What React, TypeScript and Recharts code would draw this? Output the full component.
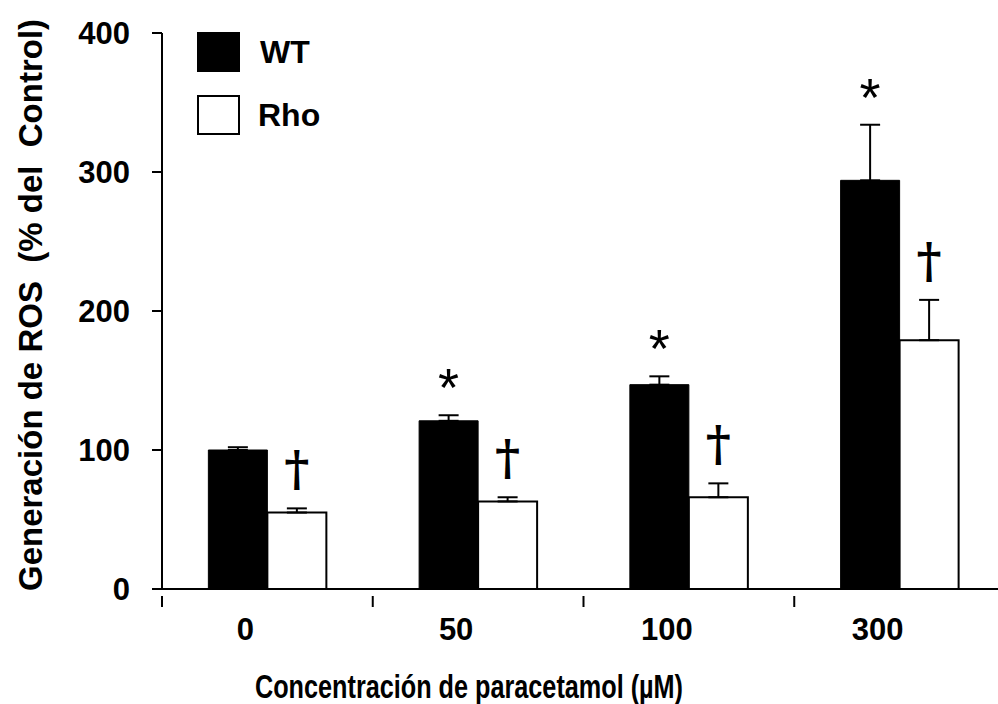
import React from 'react';
import { BarChart, Bar, XAxis, YAxis, ErrorBar, LabelList } from 'recharts';

const categories = ['0', '50', '100', '300'];
const wtValues = [100, 121, 147, 294];
const wtErrors = [2, 4, 6, 40];
const rhoValues = [55, 63, 66, 179];
const rhoErrors = [3, 3, 10, 29];
const wtMarks = ['', '*', '*', '*'];
const rhoMarks = ['†', '†', '†', '†'];
const yTicks = [0, 100, 200, 300, 400];
const seriesNames = ['WT', 'Rho'];

const FONT = '"Liberation Sans", Arial, sans-serif';

const data = categories.map((c, i) => ({
  conc: c,
  wt: wtValues[i],
  wtErr: [0, wtErrors[i]],
  rho: rhoValues[i],
  rhoErr: [0, rhoErrors[i]],
}));

// symbol drawn above the error bar of each bar
const makeMark = (marks: string[], values: number[], errors: number[], kind: 'star' | 'dagger') => (props: any) => {
  const { x, y, width, height, index } = props;
  const txt = marks[index];
  if (!txt) return null;
  const pxPerUnit = height / values[index];
  const errTop = y - errors[index] * pxPerUnit;
  const cx = x + width / 2;
  if (kind === 'star') {
    return (
      <text x={cx} y={errTop - 30} dy={21} textAnchor="middle" fontSize={54} fontFamily={FONT} fill="#000">
        {txt}
      </text>
    );
  }
  return (
    <text x={cx} y={errTop - 22} textAnchor="middle" fontSize={48} fontWeight="bold" fontFamily={'"DejaVu Serif", serif'} fill="#000">
      {txt}
    </text>
  );
};

const XTick = (props: any) => {
  const { x, y, payload } = props;
  const half = payload.offset || 0;
  return (
    <g>
      <line x1={x - half} x2={x - half} y1={y - 1} y2={y + 10} stroke="#000" strokeWidth={2} />
      <text x={x - 22} y={y + 33} dy={10} textAnchor="middle" fontSize={31} fontWeight="bold" fontFamily={FONT} fill="#000">
        {payload.value}
      </text>
    </g>
  );
};

const LegendBox = () => (
  <div
    style={{
      position: 'absolute',
      left: 197,
      top: 32,
      fontFamily: FONT,
      fontWeight: 'bold',
      fontSize: 32,
      color: '#000',
      lineHeight: 1,
    }}
  >
    <div style={{ display: 'flex', alignItems: 'center', height: 40, marginBottom: 23 }}>
      <div style={{ width: 43, height: 40, background: '#000' }} />
      <span style={{ marginLeft: 20 }}>{seriesNames[0]}</span>
    </div>
    <div style={{ display: 'flex', alignItems: 'center', height: 40 }}>
      <div style={{ width: 39, height: 36, background: '#fff', border: '2px solid #000' }} />
      <span style={{ marginLeft: 18 }}>{seriesNames[1]}</span>
    </div>
  </div>
);

export default function App() {
  return (
    <div style={{ position: 'absolute', left: 0, top: 0, width: 998, height: 704, background: '#fff' }}>
      <BarChart
        width={998}
        height={704}
        data={data}
        margin={{ top: 33, right: -7, bottom: 0, left: 0 }}
        barCategoryGap="22%"
        barGap={0}
      >
        <XAxis
          dataKey="conc"
          height={115}
          axisLine={{ stroke: '#000', strokeWidth: 2 }}
          tickLine={false}
          tick={<XTick />}
          interval={0}
          label={{
            content: () => (
              <text
                x={469}
                y={698}
                textAnchor="middle"
                fontSize={34}
                fontWeight="bold"
                fontFamily={FONT}
                fill="#000"
                textLength={428}
                lengthAdjust="spacingAndGlyphs"
              >
                Concentración de paracetamol (µM)
              </text>
            ),
          }}
        />
        <YAxis
          width={162}
          domain={[0, 400]}
          ticks={yTicks}
          interval={0}
          axisLine={{ stroke: '#000', strokeWidth: 2 }}
          tickLine={{ stroke: '#000', strokeWidth: 2 }}
          tickSize={10}
          tickMargin={22}
          tick={{ fontSize: 31, fontWeight: 'bold', fontFamily: FONT, fill: '#000' }}
          label={{
            content: () => (
              <text
                x={42}
                y={305}
                transform="rotate(-90 42 305)"
                textAnchor="middle"
                fontSize={33}
                fontWeight="bold"
                fontFamily={FONT}
                fill="#000"
                style={{ whiteSpace: 'pre' }}
              >
                {'Generación de ROS  (% del  Control)'}
              </text>
            ),
          }}
        />
        <Bar dataKey="wt" name={seriesNames[0]} fill="#000" stroke="#000" strokeWidth={1} isAnimationActive={false}>
          <ErrorBar dataKey="wtErr" width={10} stroke="#000" strokeWidth={2} direction="y" />
          <LabelList dataKey="wt" content={makeMark(wtMarks, wtValues, wtErrors, 'star')} />
        </Bar>
        <Bar dataKey="rho" name={seriesNames[1]} fill="#fff" stroke="#000" strokeWidth={2} isAnimationActive={false}>
          <ErrorBar dataKey="rhoErr" width={10} stroke="#000" strokeWidth={2} direction="y" />
          <LabelList dataKey="rho" content={makeMark(rhoMarks, rhoValues, rhoErrors, 'dagger')} />
        </Bar>
      </BarChart>
      <LegendBox />
    </div>
  );
}
